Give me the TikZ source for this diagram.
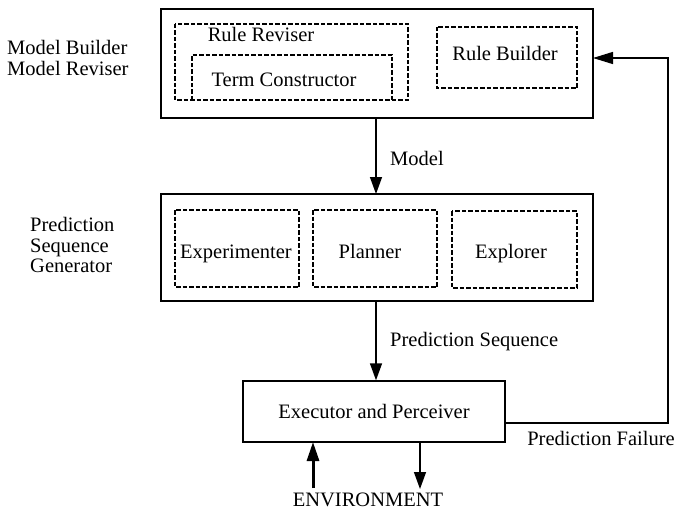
\documentclass[tikz,border=0pt]{standalone}
\usepackage{fontspec}
\setmainfont{Liberation Serif}
\usetikzlibrary{arrows.meta}
\begin{document}
\begin{tikzpicture}[x=1pt,y=-1pt,
  font=\fontsize{20.5}{20.5}\selectfont,
  solidbox/.style={draw,line width=1.4pt},
  dbox/.style={draw,line width=2.4pt,dash pattern=on 4.5pt off 2pt},
  lbl/.style={inner sep=0pt},
  arr/.style={line width=1.4pt,-{Triangle[length=17pt,width=12pt]}},
  thickarr/.style={line width=3pt,-{Triangle[length=19pt,width=12pt]}}]
\useasboundingbox (0,0) rectangle (677,511);
% top box
\draw[solidbox] (161,9) rectangle (593,118);
\coordinate (topS) at (376,118);
\coordinate (topE) at (593,58);
\draw[dbox] (175,24) rectangle (408,100);
\draw[dbox] (192,100) -- (192,55) -- (392,55) -- (392,100);
\draw[dbox] (437,27) rectangle (577,88);
\node[lbl] (rr) at (261,34) {Rule Reviser};
\node[lbl] (tc) at (284,80) {Term Constructor};
\node[lbl] (rb) at (505,53) {Rule Builder};
\node[lbl,align=left,anchor=west] (mb) at (7,58) {Model Builder\\Model Reviser};
% middle box
\draw[solidbox] (161,194) rectangle (593,301);
\coordinate (midN) at (376,194);
\coordinate (midS) at (376,301);
\draw[dbox] (175,210) rectangle (299,287);
\draw[dbox] (313,210) rectangle (437,287);
\draw[dbox] (452,211) rectangle (577,288);
\node[lbl,anchor=base] (ex) at (236,258) {Experimenter};
\node[lbl,anchor=base] (pl) at (370,258) {Planner};
\node[lbl,anchor=base] (xp) at (511,258) {Explorer};
\node[lbl,align=left,anchor=west] (psg) at (30,245) {Prediction\\Sequence\\Generator};
% executor
\node[solidbox,minimum width=262pt,minimum height=61pt,inner sep=0pt] (exe) at (374,411.5) {Executor and Perceiver};
\node[lbl] (env) at (368,500) {ENVIRONMENT};
% arrows
\draw[arr] (topS) -- (midN);
\node[lbl] (ml) at (417,158) {Model};
\draw[arr] (midS) -- (midS |- exe.north);
\node[lbl,anchor=west] (psl) at (390,342) {Prediction Sequence};
\draw[thickarr] (313,488) -- (313,442);
\draw[arr] (420,442) -- (420,489);
\coordinate (c1) at (668,423);
\coordinate (c2) at (668,58);
\draw[line width=1.4pt,-{Triangle[length=20pt,width=12pt]}] (exe.east |- c1) -- (c1) -- (c2) -- (topE);
\node[lbl] (pf) at (601,438) {Prediction Failure};
\end{tikzpicture}
\end{document}
